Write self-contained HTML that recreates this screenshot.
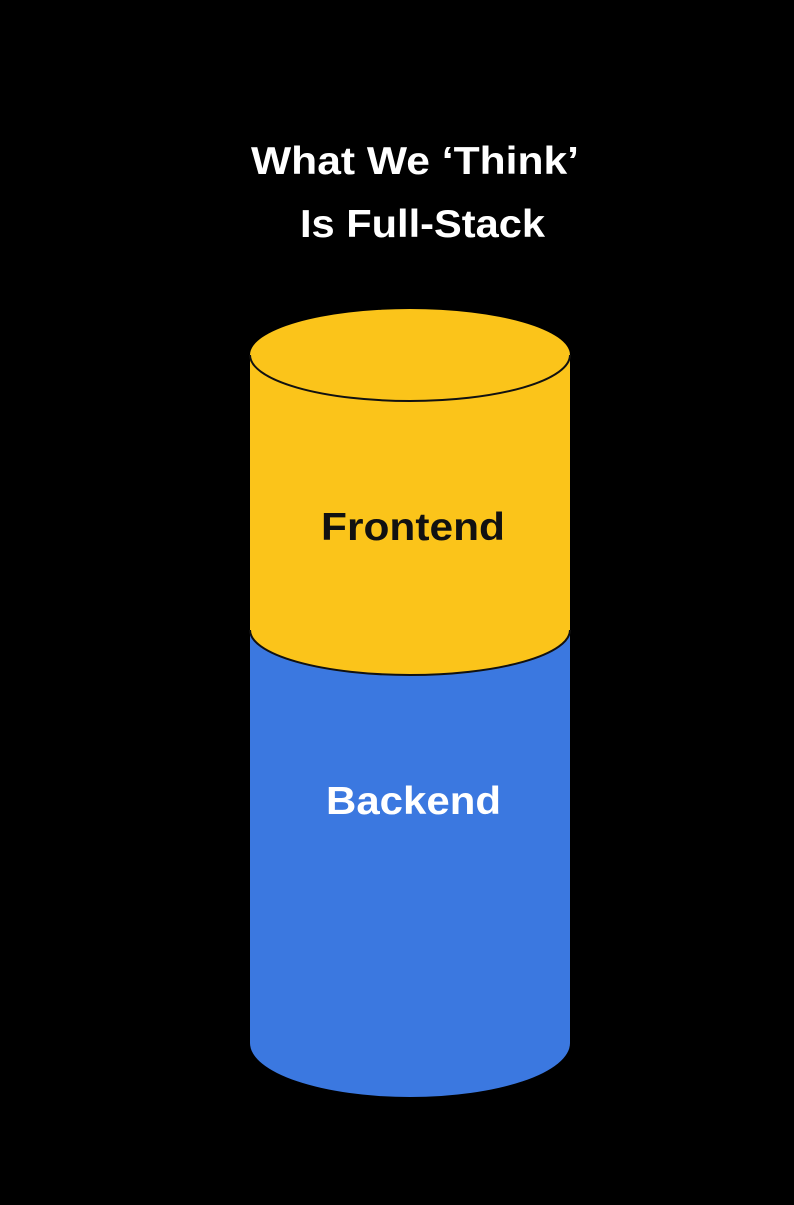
<!DOCTYPE html>
<html><head><style>
html,body{margin:0;padding:0;background:#000;}
body{width:794px;height:1200px;overflow:hidden;}
</style></head><body>
<svg width="794" height="1200" viewBox="0 0 794 1200" xmlns="http://www.w3.org/2000/svg">
<rect width="794" height="1200" fill="#000"/>
<text x="251" y="174" textLength="328" lengthAdjust="spacingAndGlyphs" fill="#fff" font-family="Liberation Sans, sans-serif" font-weight="bold" font-size="39">What We ‘Think’</text>
<text x="300" y="237" textLength="245" lengthAdjust="spacingAndGlyphs" fill="#fff" font-family="Liberation Sans, sans-serif" font-weight="bold" font-size="39">Is Full-Stack</text>
<path d="M250 630 L250 1043 A160 54 0 0 0 570 1043 L570 630 Z" fill="#3b78e0"/>
<path d="M250 355 L250 630 A160 45 0 0 0 570 630 L570 355 Z" fill="#fbc41a"/>
<path d="M250 630 A160 45 0 0 0 570 630" fill="none" stroke="#111" stroke-width="2"/>
<ellipse cx="410" cy="355" rx="160" ry="46" fill="#fbc41a"/>
<path d="M250 355 A160 46 0 0 0 570 355" fill="none" stroke="#111" stroke-width="2"/>
<text x="321" y="540" textLength="184" lengthAdjust="spacingAndGlyphs" fill="#111" font-family="Liberation Sans, sans-serif" font-weight="bold" font-size="39">Frontend</text>
<text x="326" y="814" textLength="175" lengthAdjust="spacingAndGlyphs" fill="#fff" font-family="Liberation Sans, sans-serif" font-weight="bold" font-size="39">Backend</text>
</svg>
</body></html>
